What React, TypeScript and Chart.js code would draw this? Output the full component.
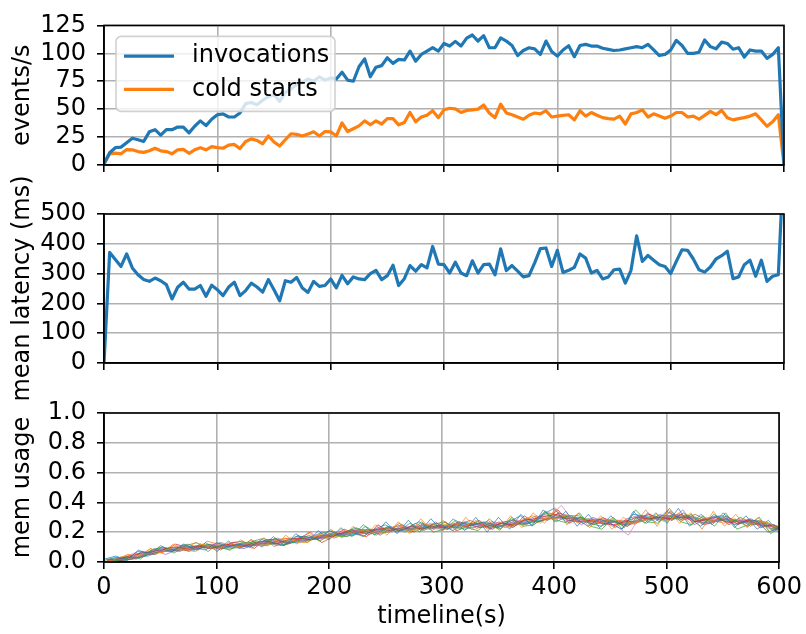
import React, { useEffect, useRef } from "react";
import { Chart, registerables } from "chart.js";

Chart.register(...registerables);

const FONT = "'DejaVu Sans', 'Liberation Sans', sans-serif";
const FS = 24;
Chart.defaults.font.family = FONT;
Chart.defaults.font.size = FS;
Chart.defaults.color = "#000";

// ---------- data ----------
const timeline = Array.from({ length: 121 }, (_, i) => i * 5); // seconds, 5 s bins

const invocations = [
  1, 11, 15.5, 16, 20, 24, 22.6, 21, 29.7, 31.6,
  26.8, 31.6, 31.6, 34, 34, 28.8, 34.7, 39.5, 35.3, 41,
  45, 45.8, 43, 43, 46.6, 55, 56, 54, 58, 61,
  63, 57, 65, 68, 72, 74, 77, 75, 79, 76,
  78, 77, 83, 76, 75, 88, 95, 79, 87.6, 89,
  96, 91, 94.6, 94, 102, 93, 99, 102, 105, 102,
  108.8, 106.5, 110.7, 106.5, 113.6, 116.4, 111, 115.8, 105, 105,
  113.8, 111, 107, 98, 102.5, 105, 104, 99, 111, 101.7,
  97.5, 103, 106.8, 97, 107, 108, 106.5, 106.5, 104.5, 103.5,
  102.5, 103, 104, 105, 106, 105, 108, 103, 98, 99,
  103, 111.6, 107, 100, 100, 101, 112, 106, 104, 110,
  108.8, 103.7, 105, 96.6, 103, 102, 102, 95.5, 99, 105,
  0,
];

const coldStarts = [
  1, 10, 10.7, 10, 13.8, 13.6, 12, 11.3, 12.7, 15,
  12.7, 12, 10, 13.6, 14, 10.5, 13.6, 15.5, 13.6, 16.4,
  15.5, 15, 17.8, 18.4, 14.7, 21, 23.4, 22, 19, 26,
  20.6, 17, 22.6, 28, 27.4, 26, 27.7, 29.7, 26, 30,
  29.7, 26, 37.6, 30, 32.5, 35, 39.5, 36, 39.5, 36.7,
  41.5, 41.5, 36, 38, 47, 38.7, 43, 44.6, 48.6, 42.4,
  49.4, 50.8, 50.3, 47, 48.9, 49.4, 50, 53.7, 46.6, 42.4,
  54.5, 46.6, 45, 43, 41, 44.6, 46.6, 45.8, 48.6, 43,
  43.8, 44.4, 45, 40.4, 48.6, 43.8, 47, 44.6, 42.4, 41.5,
  41, 43.8, 36.7, 45.8, 47, 49.4, 43, 45.8, 43.8, 41.8,
  43.8, 47, 47, 43, 43.8, 41, 44.4, 48, 45, 48.9,
  42.4, 40.4, 41.5, 42.4, 43.8, 45.8, 40.4, 34.7, 38.7, 45,
  0,
];

const meanLatency = [
  0, 371, 347, 324, 366, 319, 296, 280, 274, 285,
  276, 263, 215, 254, 271, 248, 248, 260, 224, 261,
  246, 226, 255, 271, 226, 243, 268, 255, 238, 280,
  246, 209, 276, 271, 287, 252, 237, 274, 257, 260,
  282, 252, 294, 266, 289, 282, 280, 300, 311, 280,
  293, 328, 260, 283, 327, 308, 330, 319, 391, 332,
  330, 302, 338, 302, 293, 343, 302, 330, 332, 296,
  383, 310, 327, 308, 289, 293, 336, 384, 386, 324,
  378, 304, 311, 321, 366, 352, 302, 311, 282, 289,
  313, 315, 268, 311, 427, 341, 361, 345, 330, 324,
  300, 341, 380, 378, 349, 313, 305, 322, 349, 360,
  375, 283, 289, 330, 345, 291, 345, 274, 291, 296,
  700,
];

// memory usage per worker, in percent of the limit, sampled every 10 s
const memTimes = Array.from({ length: 61 }, (_, i) => i * 10);
const memSampleOffsets = [0, 1, 2, 3, 4, 5, 6, 7, 8, 9, 0.5, 1.5, 2.5, 3.5, 4.5, 5.5, 6.5, 7.5, 8.5, 9.5];

const memPctA = [1,3,2,7,6,9,7,11,10,8,13,10,12,10,15,13,11,17,17,15,21,18,22,17,22,25,20,23,27,22,25,21,27,25,27,23,27,31,25,32,36,27,29,24,29,26,22,32,31,27,34,30,30,24,30,31,25,27,28,20,23];
const memPctB = [0,2,5,4,9,6,10,8,13,11,8,13,10,15,11,14,16,14,13,19,16,22,19,22,19,21,25,20,24,26,21,26,24,28,22,27,23,28,31,29,29,32,26,29,26,29,27,26,28,32,27,33,26,30,28,26,29,24,27,26,21];
const memPctC = [2,1,3,3,8,10,8,12,8,12,10,8,13,13,12,16,12,14,18,14,19,17,23,21,18,24,21,26,21,25,27,23,22,27,25,22,29,25,27,34,27,31,31,26,24,28,24,30,26,31,31,28,32,25,32,27,28,24,28,22,24];
const memPctD = [1,2,4,6,7,9,10,9,11,9,11,12,10,13,14,12,15,16,15,18,17,20,21,19,22,23,21,24,22,25,23,25,24,26,23,26,25,28,29,31,32,28,27,28,26,25,27,30,29,30,29,32,27,28,30,27,26,28,25,24,21];
const memPctE = [0,3,3,5,8,7,9,10,9,11,10,11,12,11,13,15,13,15,17,16,19,18,21,20,20,23,22,22,25,23,24,26,23,24,26,24,27,26,30,28,33,30,27,29,25,27,25,28,32,28,31,30,29,26,28,29,28,26,27,22,22];
const memPctF = [2,1,2,4,6,9,8,8,11,10,9,12,11,12,12,14,13,16,15,17,18,20,19,21,22,21,23,22,23,24,22,27,25,23,25,26,24,29,27,29,30,29,30,25,28,27,24,31,29,30,28,33,27,29,27,30,26,29,24,25,20];
const memPctG = [1,2,2,5,7,8,11,9,9,12,11,10,13,12,14,13,14,14,18,17,18,19,22,20,21,20,24,23,25,22,25,24,26,25,25,24,28,27,29,30,29,27,28,26,27,24,18,30,28,30,32,29,28,27,31,26,28,27,25,23,23];
const memPctH = [1,1,3,4,8,7,8,10,10,9,11,11,10,13,13,12,16,14,16,18,19,19,20,22,20,22,23,24,22,25,24,23,26,24,24,27,26,26,30,31,29,30,28,27,26,27,27,27,31,29,29,31,30,26,29,28,27,25,26,24,21];
const memPctI = [0,2,3,6,6,8,9,10,12,10,10,10,12,11,12,14,15,13,17,16,17,21,20,19,23,21,22,21,24,24,26,24,23,25,26,23,27,29,26,32,31,28,29,27,28,25,26,29,31,27,30,32,28,28,29,28,29,27,27,23,22];
const memPctJ = [1,3,2,5,7,8,9,8,10,11,9,11,12,13,12,13,13,15,16,17,18,18,19,21,21,22,21,23,24,22,23,25,25,24,23,25,26,27,28,30,30,30,27,27,28,26,26,28,29,28,30,30,29,27,28,28,27,27,26,24,22];
const memPctK = [2,4,1,8,5,11,7,12,8,13,7,14,9,15,10,17,11,19,13,21,15,23,17,25,18,27,19,28,20,29,21,29,21,30,20,30,22,32,24,35,27,34,24,32,23,31,22,34,26,33,26,36,24,32,25,33,23,31,22,28,19];
const memPctL = [0,1,5,3,9,6,12,8,7,14,12,8,15,9,16,10,18,12,20,14,22,16,24,17,25,18,27,19,29,21,28,20,30,22,28,21,31,23,33,26,36,25,33,23,31,22,30,25,35,24,35,26,33,22,34,24,32,23,30,20,25];
const memPctM = [1,3,4,2,8,10,6,11,13,7,13,9,10,14,16,11,12,18,14,19,21,17,18,24,19,20,26,21,27,20,22,28,23,21,29,22,30,24,25,34,28,26,33,24,22,30,23,35,27,26,36,27,25,31,24,33,22,25,30,19,24];
const memPctN = [1,2,2,7,6,7,12,10,8,12,8,13,14,9,15,15,12,16,20,13,17,22,19,17,25,20,24,20,26,22,27,21,24,28,22,27,23,31,26,29,35,26,30,25,30,24,28,26,33,27,34,28,30,25,27,31,25,29,23,25,20];
const memPctO = [0,3,2,4,9,5,8,12,9,11,13,10,9,12,14,16,13,13,17,20,16,19,23,18,21,24,21,25,21,27,22,26,25,23,27,26,24,28,31,28,33,30,25,30,27,23,29,31,28,32,28,35,25,29,31,26,29,24,28,21,23];
const memPctP = [2,1,4,6,5,9,10,7,12,10,11,13,12,11,11,15,16,14,15,18,20,17,21,22,18,23,25,20,24,26,22,25,28,24,22,27,28,25,30,33,30,31,26,28,29,27,24,30,32,28,31,29,32,28,30,25,30,26,24,25,21];
const memPctQ = [1,2,6,5,7,9,8,9,11,12,9,11,13,14,12,12,15,17,15,16,19,20,18,21,23,21,21,26,23,23,25,27,22,26,26,23,27,29,27,31,38,28,27,29,25,28,25,27,29,31,29,30,27,30,27,29,26,28,27,22,22];
const memPctR = [0,2,3,5,6,8,7,11,10,9,12,10,12,13,15,11,13,17,16,16,18,21,22,19,22,23,20,24,25,23,24,26,25,27,23,26,25,26,29,29,31,27,29,26,26,28,27,28,30,30,32,31,27,26,30,27,28,28,25,24,23];
const memPctS = [1,3,2,6,8,7,10,9,10,11,10,12,11,12,14,14,13,16,17,18,17,19,20,21,20,22,23,23,22,25,25,23,26,24,25,24,26,28,27,32,30,30,28,26,28,26,25,29,29,30,29,31,29,28,28,29,26,27,27,23,22];
const memPctT = [1,1,3,4,7,9,9,8,11,10,10,11,10,13,12,14,14,14,16,17,19,18,21,20,21,21,22,24,23,24,23,24,26,25,24,25,27,27,28,31,31,29,29,28,27,27,26,30,31,28,30,31,28,28,29,27,28,26,26,22,22];

const memSeries = [
  memPctA, memPctB, memPctC, memPctD, memPctE, memPctF, memPctG, memPctH, memPctI, memPctJ,
  memPctK, memPctL, memPctM, memPctN, memPctO, memPctP, memPctQ, memPctR, memPctS, memPctT,
];

const eventTicks = [0, 125, 25];
const latencyTicks = [0, 500, 100];
const memTicks = [0, 1, 0.2];

// ---------- styling ----------
const TAB10 = ["#1f77b4", "#ff7f0e", "#2ca02c", "#d62728", "#9467bd", "#8c564b", "#e377c2", "#7f7f7f", "#bcbd22", "#17becf"];
const TAB10_ALPHA = [
  "rgba(31,119,180,0.7)", "rgba(255,127,14,0.7)", "rgba(44,160,44,0.7)", "rgba(214,39,40,0.7)", "rgba(148,103,189,0.7)",
  "rgba(140,86,75,0.7)", "rgba(227,119,194,0.7)", "rgba(127,127,127,0.7)", "rgba(188,189,34,0.7)", "rgba(23,190,207,0.7)",
];
const GRID = "#b0b0b0";
const LW = 1.6;
const H = 634;

const framePlugin = {
  id: "frame",
  afterDatasetsDraw(chart: any) {
    const { ctx, chartArea: a } = chart;
    ctx.save();
    ctx.strokeStyle = "#000";
    ctx.lineWidth = LW;
    ctx.strokeRect(a.left, a.top, a.right - a.left, a.bottom - a.top);
    ctx.restore();
  },
};

const innerLegendPlugin = {
  id: "innerLegend",
  afterDraw(chart: any) {
    const { ctx, chartArea: a } = chart;
    const x0 = a.left + 12;
    const y0 = a.top + 11;
    const w = 219;
    const h = 75;
    ctx.save();
    ctx.beginPath();
    if (ctx.roundRect) ctx.roundRect(x0, y0, w, h, 5);
    else ctx.rect(x0, y0, w, h);
    ctx.fillStyle = "rgba(255,255,255,0.8)";
    ctx.fill();
    ctx.strokeStyle = "rgba(204,204,204,0.9)";
    ctx.lineWidth = 1.6;
    ctx.stroke();
    chart.data.datasets.forEach((ds: any, i: number) => {
      const y = y0 + 19.7 + i * 33.3;
      ctx.strokeStyle = ds.borderColor;
      ctx.lineWidth = 3.2;
      ctx.lineCap = "butt";
      ctx.beginPath();
      ctx.moveTo(x0 + 8, y);
      ctx.lineTo(x0 + 58, y);
      ctx.stroke();
      ctx.fillStyle = "#000";
      ctx.font = `${FS}px ${FONT}`;
      ctx.textBaseline = "middle";
      ctx.textAlign = "left";
      ctx.fillText(ds.label, x0 + 76, y);
    });
    ctx.restore();
  },
};

function makeOptions(
  ticks: number[],
  yTitle: string,
  showX: boolean,
  areaTop: number,
  areaBottom: number,
  xHeight: number,
  fmt?: (v: number) => string
) {
  return {
    responsive: false,
    animation: false,
    events: [],
    layout: { padding: { top: areaTop, right: 22, left: 0, bottom: H - areaBottom - xHeight } },
    plugins: { legend: { display: false }, tooltip: { enabled: false } },
    elements: { point: { radius: 0 }, line: { tension: 0 } },
    scales: {
      x: {
        type: "linear",
        min: 0,
        max: 600,
        ticks: { display: showX, stepSize: 100, padding: 4, maxRotation: 0, autoSkip: false, color: "#000", font: { size: FS, family: FONT } },
        grid: { color: GRID, lineWidth: LW, tickColor: "#000", tickLength: 7, tickWidth: LW },
        border: { display: true, color: "#000", width: LW },
        title: showX
          ? { display: true, text: "timeline(s)", color: "#000", padding: { top: 0, bottom: 3 }, font: { size: FS, family: FONT } }
          : { display: false },
        afterFit: (s: any) => {
          s.height = xHeight;
        },
      },
      y: {
        type: "linear",
        min: ticks[0],
        max: ticks[1],
        ticks: {
          stepSize: ticks[2],
          padding: 11,
          autoSkip: false,
          color: "#000",
          font: { size: FS, family: FONT },
          callback: (v: any) => (fmt ? fmt(Number(v)) : String(v)),
        },
        grid: { color: GRID, lineWidth: LW, tickColor: "#000", tickLength: 7, tickWidth: LW },
        border: { display: true, color: "#000", width: LW },
        title: { display: true, text: yTitle, color: "#000", padding: { top: 8, bottom: 0 }, font: { size: FS, family: FONT } },
        afterFit: (s: any) => {
          s.width = 104;
        },
      },
    },
  };
}

const toPoints = (xs: number[], ys: number[], dx = 0, scale = 1) =>
  ys.map((y, i) => ({ x: xs[i] + dx, y: y * scale }));

function eventsConfig(): any {
  return {
    type: "line",
    data: {
      datasets: [
        { label: "invocations", data: toPoints(timeline, invocations), borderColor: TAB10[0], backgroundColor: TAB10[0], borderWidth: 3.2, borderJoinStyle: "round", fill: false },
        { label: "cold starts", data: toPoints(timeline, coldStarts), borderColor: TAB10[1], backgroundColor: TAB10[1], borderWidth: 3.2, borderJoinStyle: "round", fill: false },
      ],
    },
    options: makeOptions(eventTicks, "events/s", false, 17, 165, 25),
    plugins: [framePlugin, innerLegendPlugin],
  };
}

function latencyConfig(): any {
  return {
    type: "line",
    data: {
      datasets: [
        { label: "mean latency", data: toPoints(timeline, meanLatency), borderColor: TAB10[0], borderWidth: 3.2, borderJoinStyle: "round", fill: false },
      ],
    },
    options: makeOptions(latencyTicks, "mean latency (ms)", false, 214, 363, 22),
    plugins: [framePlugin],
  };
}

function memConfig(): any {
  return {
    type: "line",
    data: {
      datasets: memSeries.map((s, k) => ({
        label: `worker ${k}`,
        data: toPoints(memTimes, s, memSampleOffsets[k], 0.01),
        borderColor: TAB10_ALPHA[k % 10],
        borderWidth: 1,
        fill: false,
      })),
    },
    options: makeOptions(memTicks, "mem usage", true, 413, 562, 72, (v) => v.toFixed(1)),
    plugins: [framePlugin],
  };
}

function Panel({ make }: { make: () => any }) {
  const ref = useRef<HTMLCanvasElement>(null);
  useEffect(() => {
    const chart = new Chart(ref.current as HTMLCanvasElement, make());
    return () => chart.destroy();
  }, []);
  return (
    <canvas
      ref={ref}
      width={806}
      height={H}
      style={{ position: "absolute", left: 0, top: 0, width: 806, height: H, display: "block" }}
    />
  );
}

export default function App() {
  return (
    <div style={{ position: "absolute", left: 0, top: 0, width: 806, height: H, background: "#fff", overflow: "hidden" }}>
      <Panel make={eventsConfig} />
      <Panel make={latencyConfig} />
      <Panel make={memConfig} />
    </div>
  );
}
